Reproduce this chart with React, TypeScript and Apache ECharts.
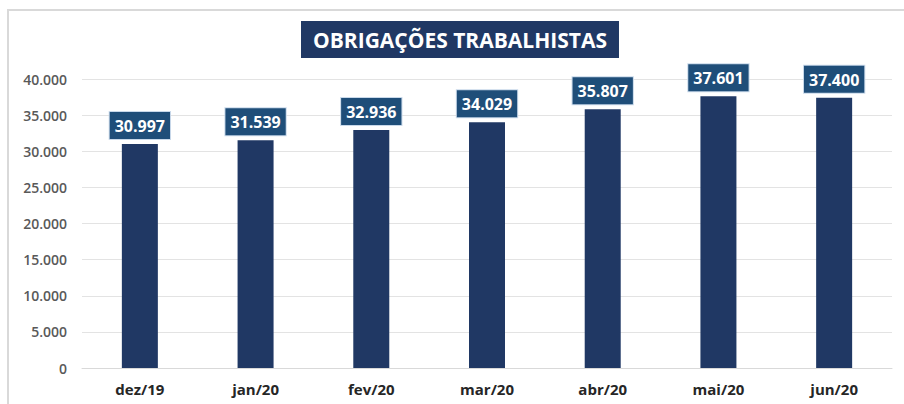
import React, { useEffect, useRef } from "react";
import * as echarts from "echarts";

const categories = ["dez/19", "jan/20", "fev/20", "mar/20", "abr/20", "mai/20", "jun/20"];
const values = [30997, 31539, 32936, 34029, 35807, 37601, 37400];
const titleText = "OBRIGAÇÕES TRABALHISTAS";

const fmt = (v: number) => String(Math.round(v)).replace(/\B(?=(\d{3})+(?!\d))/g, ".");

export default function App() {
  const ref = useRef<HTMLDivElement>(null);
  useEffect(() => {
    document.body.style.margin = "0";
    const chart = echarts.init(ref.current!, null, { renderer: "svg" });
    chart.setOption({
      animation: false,
      backgroundColor: "#ffffff",
      title: {
        text: titleText,
        left: 301,
        top: 21,
        padding: [5, 12, 5, 12],
        backgroundColor: "#203864",
        textStyle: {
          color: "#ffffff",
          fontFamily: "Open Sans",
          fontWeight: "bold",
          fontSize: 21,
          lineHeight: 27,
        },
      },
      graphic: [
        {
          type: "rect",
          shape: { x: 8, y: 10, width: 1000, height: 500 },
          style: { fill: "none", stroke: "#D9D9D9", lineWidth: 2 },
          silent: true,
        },
      ],
      grid: { left: 82, right: 12, top: 79, bottom: 36 },
      xAxis: {
        type: "category",
        data: categories,
        axisLine: { show: true, lineStyle: { color: "#D9D9D9" } },
        axisTick: { show: false },
        axisLabel: {
          color: "#262626",
          fontFamily: "Open Sans",
          fontWeight: "bold",
          fontSize: 15,
          margin: 13,
        },
      },
      yAxis: {
        type: "value",
        min: 0,
        max: 40000,
        interval: 5000,
        axisLine: { show: false },
        axisTick: { show: false },
        splitLine: { lineStyle: { color: "#E3E3E3" } },
        axisLabel: {
          color: "#595959",
          fontFamily: "Open Sans",
          fontWeight: 600,
          fontSize: 14,
          margin: 15,
          formatter: (v: number) => fmt(v),
        },
      },
      series: [
        {
          type: "bar",
          data: values,
          barWidth: 36,
          itemStyle: { color: "#203864" },
          label: {
            show: true,
            position: "top",
            distance: 5,
            formatter: (p: any) => fmt(p.value),
            color: "#ffffff",
            fontFamily: "Open Sans",
            fontWeight: "bold",
            fontSize: 16,
            lineHeight: 18,
            backgroundColor: "#1F4E79",
            borderColor: "#C9D9EA",
            borderWidth: 1,
            padding: [5, 5, 4, 5],
          },
        },
      ],
    });
    return () => chart.dispose();
  }, []);
  return <div ref={ref} style={{ width: 904, height: 404 }} />;
}
